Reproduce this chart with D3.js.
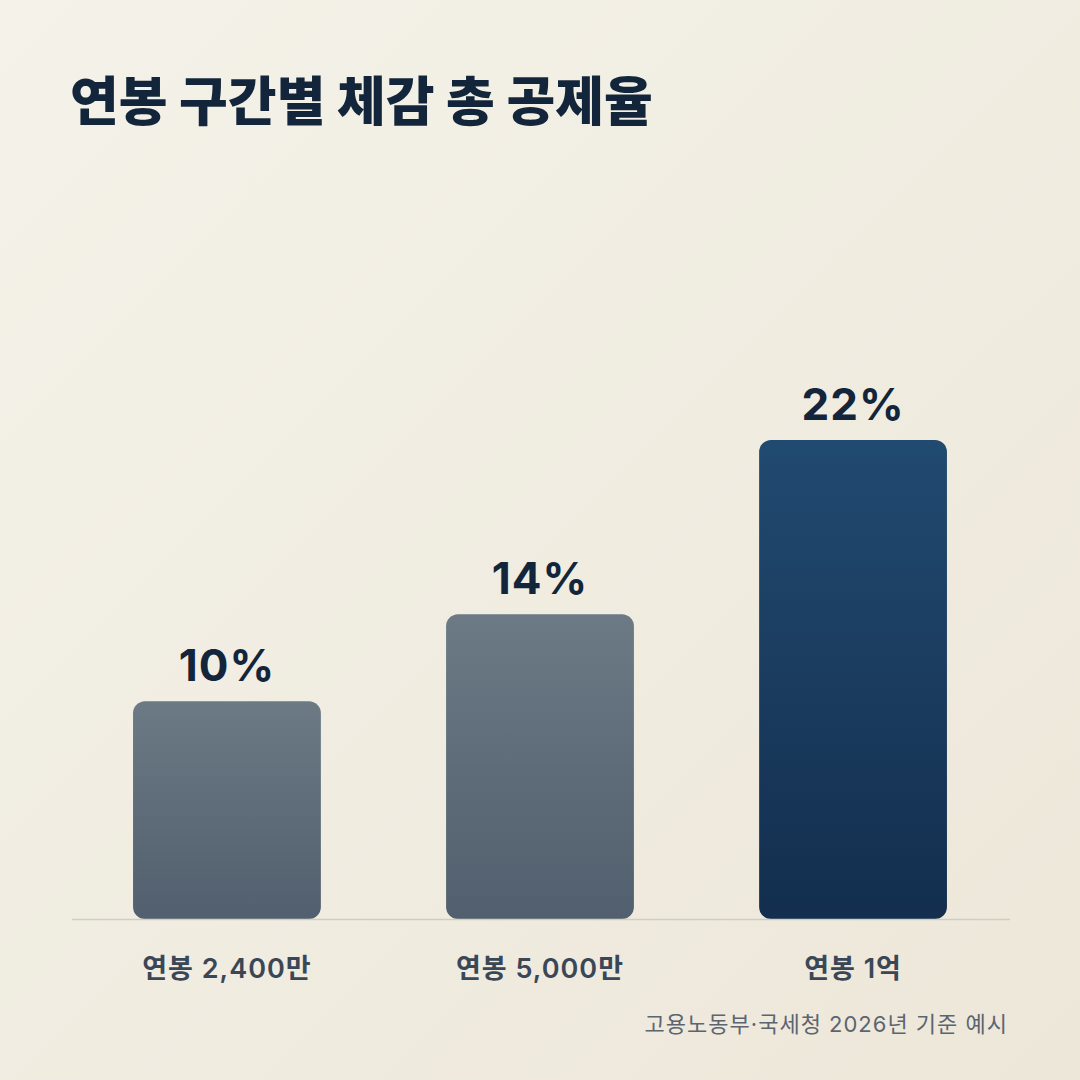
<!DOCTYPE html>
<html>
<head>
<meta charset="utf-8">
<script src="https://cdn.jsdelivr.net/npm/d3@7"></script>
<style>
  html, body { margin: 0; padding: 0; }
  body { width: 1080px; height: 1080px; overflow: hidden; }
  text { font-family: Inter, "Noto Sans CJK KR", "Noto Sans", sans-serif; }
</style>
</head>
<body>
<svg id="chart" width="1080" height="1080"></svg>
<script>
let categories = ['연봉 2,400만', '연봉 5,000만', '연봉 1억'];
let rates = [10, 14, 22];
let rateLabels = ['10%', '14%', '22%'];

let svg = d3.select('#chart');
let defs = svg.append('defs');

// background
let bg = defs.append('linearGradient').attr('id', 'bg')
    .attr('x1', 0).attr('y1', 0).attr('x2', 1).attr('y2', 1);
bg.append('stop').attr('offset', '0%').attr('stop-color', '#f4f2e9');
bg.append('stop').attr('offset', '100%').attr('stop-color', '#ede7d9');

let grey = defs.append('linearGradient').attr('id', 'grey')
    .attr('x1', 0).attr('y1', 0).attr('x2', 0).attr('y2', 1);
grey.append('stop').attr('offset', '0%').attr('stop-color', '#6b7a85');
grey.append('stop').attr('offset', '100%').attr('stop-color', '#525f6e');

let navy = defs.append('linearGradient').attr('id', 'navy')
    .attr('x1', 0).attr('y1', 0).attr('x2', 0).attr('y2', 1);
navy.append('stop').attr('offset', '0%').attr('stop-color', '#214a70');
navy.append('stop').attr('offset', '100%').attr('stop-color', '#132e4e');

svg.append('rect').attr('width', 1080).attr('height', 1080).attr('fill', 'url(#bg)');

svg.append('text')
    .attr('x', 70).attr('y', 121)
    .attr('font-size', 53).attr('font-weight', 800)
    .attr('fill', '#12253a')
    .text('연봉 구간별 체감 총 공제율');

let base = 919;
let x = d3.scaleBand().domain(categories).range([72, 1008]).paddingInner(0.4).paddingOuter(0.195);
let y = d3.scaleLinear().domain([0, 22]).range([base, 440]);

svg.append('g')
    .selectAll('rect')
    .data(rates)
    .join('rect')
    .attr('x', (d, i) => x(categories[i]))
    .attr('y', d => y(d))
    .attr('width', x.bandwidth())
    .attr('height', d => base - y(d))
    .attr('rx', 12)
    .attr('fill', (d, i) => i == rates.length - 1 ? 'url(#navy)' : 'url(#grey)');

svg.append('line')
    .attr('x1', 72).attr('x2', 1010)
    .attr('y1', base + 0.5).attr('y2', base + 0.5)
    .attr('stroke', '#cfcec3').attr('stroke-width', 1.5);

svg.append('g')
    .selectAll('text')
    .data(rates)
    .join('text')
    .attr('x', (d, i) => x(categories[i]) + x.bandwidth() / 2)
    .attr('y', d => y(d) - 20)
    .attr('text-anchor', 'middle')
    .attr('font-size', 44).attr('font-weight', 700)
    .attr('letter-spacing', 1)
    .attr('fill', '#12253a')
    .text((d, i) => rateLabels[i]);

svg.append('g')
    .selectAll('text')
    .data(categories)
    .join('text')
    .attr('x', d => x(d) + x.bandwidth() / 2)
    .attr('y', 978)
    .attr('text-anchor', 'middle')
    .attr('font-size', 27).attr('font-weight', 600)
    .attr('letter-spacing', 1)
    .attr('fill', '#3a4757')
    .text(d => d);

svg.append('text')
    .attr('x', 1008).attr('y', 1032)
    .attr('text-anchor', 'end')
    .attr('font-size', 22)
    .attr('letter-spacing', 1)
    .attr('fill', '#5b6571')
    .text('고용노동부·국세청 2026년 기준 예시');
</script>
</body>
</html>
